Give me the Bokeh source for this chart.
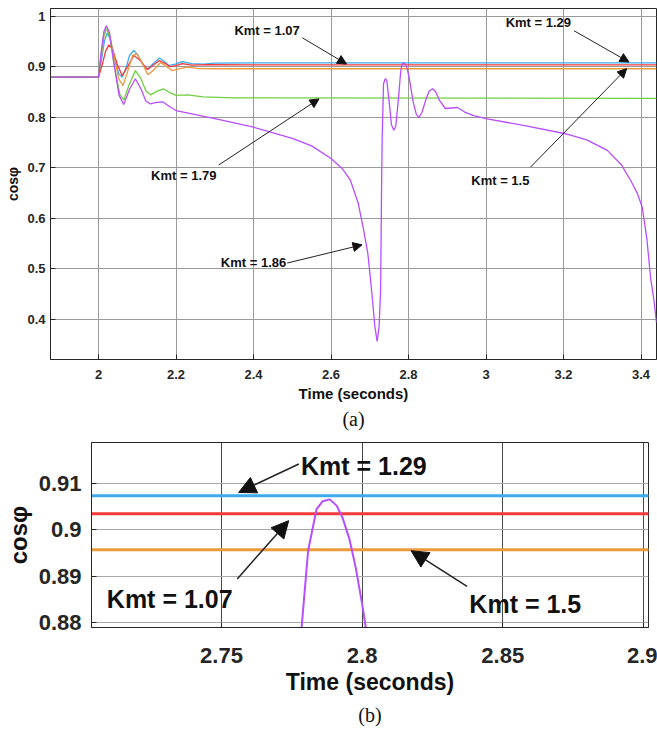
from bokeh.plotting import figure
from bokeh.models import Range1d, FixedTicker, Arrow, NormalHead, Label, Title
from bokeh.embed import file_html
from bokeh.resources import INLINE

# ---------------- data ----------------
t_107 = [1.876, 2.000, 2.010, 2.018, 2.027, 2.036, 2.048, 2.061, 2.075, 2.091, 2.108, 2.126,
         2.140, 2.157, 2.172, 2.185, 2.200, 2.216, 2.240, 2.280, 2.400, 3.440]
v_107 = [0.879, 0.879, 0.905, 0.930, 0.943, 0.935, 0.905, 0.882, 0.900, 0.922, 0.912, 0.894,
         0.902, 0.912, 0.906, 0.900, 0.902, 0.906, 0.903, 0.904, 0.9035, 0.9035]

t_129 = [1.876, 2.000, 2.008, 2.015, 2.022, 2.030, 2.042, 2.052, 2.061, 2.070, 2.080, 2.091,
         2.102, 2.115, 2.126, 2.140, 2.157, 2.170, 2.181, 2.198, 2.216, 2.240, 2.270, 2.300,
         2.400, 3.440]
v_129 = [0.879, 0.879, 0.915, 0.950, 0.966, 0.955, 0.915, 0.886, 0.879, 0.895, 0.922, 0.932,
         0.922, 0.903, 0.895, 0.905, 0.917, 0.910, 0.902, 0.905, 0.910, 0.906, 0.905, 0.907,
         0.9074, 0.9074]

t_150 = [1.876, 2.000, 2.007, 2.014, 2.020, 2.028, 2.040, 2.052, 2.063, 2.075, 2.088, 2.100,
         2.112, 2.127, 2.142, 2.160, 2.175, 2.190, 2.210, 2.230, 2.260, 2.300, 3.440]
v_150 = [0.879, 0.879, 0.920, 0.960, 0.974, 0.965, 0.920, 0.876, 0.862, 0.890, 0.922, 0.925,
         0.908, 0.884, 0.893, 0.908, 0.900, 0.892, 0.896, 0.899, 0.896, 0.8957, 0.8957]

t_179 = [1.876, 2.000, 2.007, 2.014, 2.021, 2.030, 2.042, 2.055, 2.065, 2.078, 2.095, 2.110,
         2.122, 2.134, 2.150, 2.167, 2.185, 2.200, 2.230, 2.270, 2.350, 3.440]
v_179 = [0.879, 0.879, 0.925, 0.965, 0.975, 0.955, 0.895, 0.845, 0.834, 0.862, 0.892, 0.875,
         0.852, 0.844, 0.851, 0.856, 0.848, 0.843, 0.844, 0.840, 0.838, 0.837]

t_186 = [1.876, 2.000, 2.007, 2.014, 2.020, 2.028, 2.040, 2.053, 2.065, 2.080, 2.095, 2.110,
         2.122, 2.134, 2.150, 2.166, 2.185, 2.200, 2.300, 2.400, 2.500, 2.550, 2.600, 2.630,
         2.650, 2.670, 2.684, 2.695, 2.702, 2.708, 2.713, 2.719, 2.724, 2.728, 2.7303, 2.732,
         2.7355, 2.740, 2.744, 2.750, 2.756, 2.762, 2.767, 2.772, 2.7755, 2.7785, 2.7808,
         2.7838, 2.786, 2.7885, 2.791, 2.793, 2.7955, 2.7977, 2.800, 2.8013, 2.806, 2.812,
         2.820, 2.827, 2.835, 2.845, 2.853, 2.862, 2.870, 2.880, 2.895, 2.910, 2.926, 2.945,
         2.968, 3.000, 3.100, 3.205, 3.260, 3.313, 3.350, 3.373, 3.390, 3.403, 3.415, 3.425,
         3.433, 3.440]
v_186 = [0.879, 0.879, 0.930, 0.970, 0.981, 0.968, 0.905, 0.843, 0.825, 0.855, 0.876, 0.855,
         0.832, 0.826, 0.829, 0.830, 0.820, 0.813, 0.797, 0.780, 0.758, 0.743, 0.718, 0.697,
         0.675, 0.630, 0.577, 0.530, 0.478, 0.430, 0.386, 0.356, 0.385, 0.458, 0.650, 0.760,
         0.866, 0.876, 0.872, 0.830, 0.785, 0.774, 0.782, 0.820, 0.850, 0.879, 0.8955,
         0.9045, 0.9062, 0.9066, 0.9052, 0.9027, 0.8980, 0.8919, 0.8840, 0.8789, 0.858, 0.830,
         0.806, 0.799, 0.810, 0.835, 0.851, 0.856, 0.850, 0.833, 0.817, 0.818, 0.819, 0.810,
         0.803, 0.797, 0.783, 0.767, 0.755, 0.734, 0.705, 0.675, 0.650, 0.622, 0.560, 0.480,
         0.440, 0.393]

series_names = ["Kmt = 1.29", "Kmt = 1.07", "Kmt = 1.5", "Kmt = 1.79", "Kmt = 1.86"]
series_colors = ["#3daaf0", "#f23a3a", "#eb9a3c", "#70d040", "#b84dff"]

xticks_a = [2.0, 2.2, 2.4, 2.6, 2.8, 3.0, 3.2, 3.4]
xlabels_a = ["2", "2.2", "2.4", "2.6", "2.8", "3", "3.2", "3.4"]
yticks_a = [0.4, 0.5, 0.6, 0.7, 0.8, 0.9, 1.0]
ylabels_a = ["0.4", "0.5", "0.6", "0.7", "0.8", "0.9", "1"]

xticks_b = [2.75, 2.8, 2.85, 2.9]
xlabels_b = ["2.75", "2.8", "2.85", "2.9"]
yticks_b = [0.88, 0.89, 0.9, 0.91]
ylabels_b = ["0.88", "0.89", "0.9", "0.91"]

# annotations: text, text x, text y, arrow start x/y, arrow end x/y
ann_a = [
    ("Kmt = 1.07", 2.435, 0.971, 2.526, 0.957, 2.640, 0.905),
    ("Kmt = 1.29", 3.135, 0.987, 3.227, 0.971, 3.369, 0.909),
    ("Kmt = 1.5", 3.037, 0.675, 3.115, 0.701, 3.363, 0.896),
    ("Kmt = 1.79", 2.220, 0.685, 2.310, 0.705, 2.569, 0.836),
    ("Kmt = 1.86", 2.400, 0.512, 2.487, 0.511, 2.680, 0.547),
]
ann_b = [
    ("Kmt = 1.29", 2.8006, 0.9139, 2.7775, 0.91425, 2.7561, 0.9081),
    ("Kmt = 1.07", 2.7316, 0.8851, 2.7556, 0.8894, 2.7739, 0.9020),
    ("Kmt = 1.5", 2.8580, 0.8840, 2.8373, 0.8878, 2.8174, 0.8955),
]

FONT = "Liberation Sans"
SERIF = "Liberation Serif"
TICK_COLOR = "#262626"

ts = [t_129, t_107, t_150, t_179, t_186]
vs = [v_129, v_107, v_150, v_179, v_186]


def style_axes(p, xt, xl, yt, yl, tick_size, label_size, ylab_size,
               xstand, ystand, xlstand, ylstand, grid_x, grid_y):
    p.xaxis.ticker = FixedTicker(ticks=xt)
    p.yaxis.ticker = FixedTicker(ticks=yt)
    p.xgrid.ticker = FixedTicker(ticks=xt)
    p.ygrid.ticker = FixedTicker(ticks=yt)
    p.xaxis.major_label_overrides = dict(zip(xt, xl))
    p.yaxis.major_label_overrides = dict(zip(yt, yl))
    for ax in (p.xaxis[0], p.yaxis[0]):
        ax.major_label_text_font = FONT
        ax.major_label_text_font_style = "bold"
        ax.major_label_text_font_size = tick_size
        ax.major_label_text_color = TICK_COLOR
        ax.axis_label_text_font = FONT
        ax.axis_label_text_font_style = "bold"
        ax.axis_label_text_color = "#111111"
        ax.major_tick_out = 0
        ax.major_tick_in = 5
        ax.minor_tick_in = 0
        ax.minor_tick_out = 0
        ax.axis_line_color = TICK_COLOR
        ax.major_tick_line_color = TICK_COLOR
    p.xaxis.axis_label_text_font_size = label_size
    p.yaxis.axis_label_text_font_size = ylab_size
    p.xaxis.major_label_standoff = xstand
    p.yaxis.major_label_standoff = ystand
    p.xaxis.axis_label_standoff = xlstand
    p.yaxis.axis_label_standoff = ylstand
    p.xgrid.grid_line_color = grid_x
    p.ygrid.grid_line_color = grid_y
    p.outline_line_color = TICK_COLOR
    p.outline_line_alpha = 1
    p.background_fill_color = "white"
    p.border_fill_color = "white"


# ---------------- figure (a) ----------------
pa = figure(width=657, height=440, output_backend="svg", toolbar_location=None,
            x_range=Range1d(1.876, 3.44), y_range=Range1d(0.32, 1.015),
            min_border_left=50, min_border_right=1, min_border_top=8, min_border_bottom=81,
            x_axis_label="Time (seconds)", y_axis_label="cosφ")
style_axes(pa, xticks_a, xlabels_a, yticks_a, ylabels_a, "13px", "15px", "14px",
           10, 5, 3, 3, "#9a9a9a", "#9a9a9a")
for t, v, c in zip(ts, vs, series_colors):
    pa.line(t, v, line_color=c, line_width=1.3)
for txt, tx, ty, x0, y0, x1, y1 in ann_a:
    pa.add_layout(Arrow(x_start=x0, y_start=y0, x_end=x1, y_end=y1, line_color="#222222",
                        line_width=1,
                        end=NormalHead(size=9, fill_color="#111111", line_color="#111111")))
    pa.add_layout(Label(x=tx, y=ty, text=txt, text_align="center", text_baseline="middle",
                        text_font=FONT, text_font_style="bold", text_font_size="13px",
                        text_color="#111111"))
pa.add_layout(Title(text="(a)", align="center", text_font=SERIF, text_font_style="normal",
                    text_font_size="20px", text_color="#111111", standoff=2), "below")

# ---------------- figure (b) ----------------
pb = figure(width=657, height=289, output_backend="svg", toolbar_location=None,
            x_range=Range1d(2.7038, 2.9018), y_range=Range1d(0.8789, 0.9189),
            min_border_left=91, min_border_right=9, min_border_top=2, min_border_bottom=102,
            x_axis_label="Time (seconds)", y_axis_label="cosφ")
style_axes(pb, xticks_b, xlabels_b, yticks_b, ylabels_b, "22px", "23px", "24px",
           20, 10, 3, 4, "#4a4a4a", "#a8a8a8")
widths_b = [3, 3, 3, 2, 2]
for t, v, c, w in zip(ts, vs, series_colors, widths_b):
    pb.line(t, v, line_color=c, line_width=w)
for txt, tx, ty, x0, y0, x1, y1 in ann_b:
    pb.add_layout(Arrow(x_start=x0, y_start=y0, x_end=x1, y_end=y1, line_color="#222222",
                        line_width=1.5,
                        end=NormalHead(size=17, fill_color="#111111", line_color="#111111")))
    pb.add_layout(Label(x=tx, y=ty, text=txt, text_align="center", text_baseline="middle",
                        text_font=FONT, text_font_style="bold", text_font_size="25px",
                        text_color="#111111"))
pb.add_layout(Title(text="(b)", align="center", text_font=SERIF, text_font_style="normal",
                    text_font_size="20px", text_color="#111111", standoff=8), "below")

open("out.html", "w").write(file_html([pa, pb], INLINE))
